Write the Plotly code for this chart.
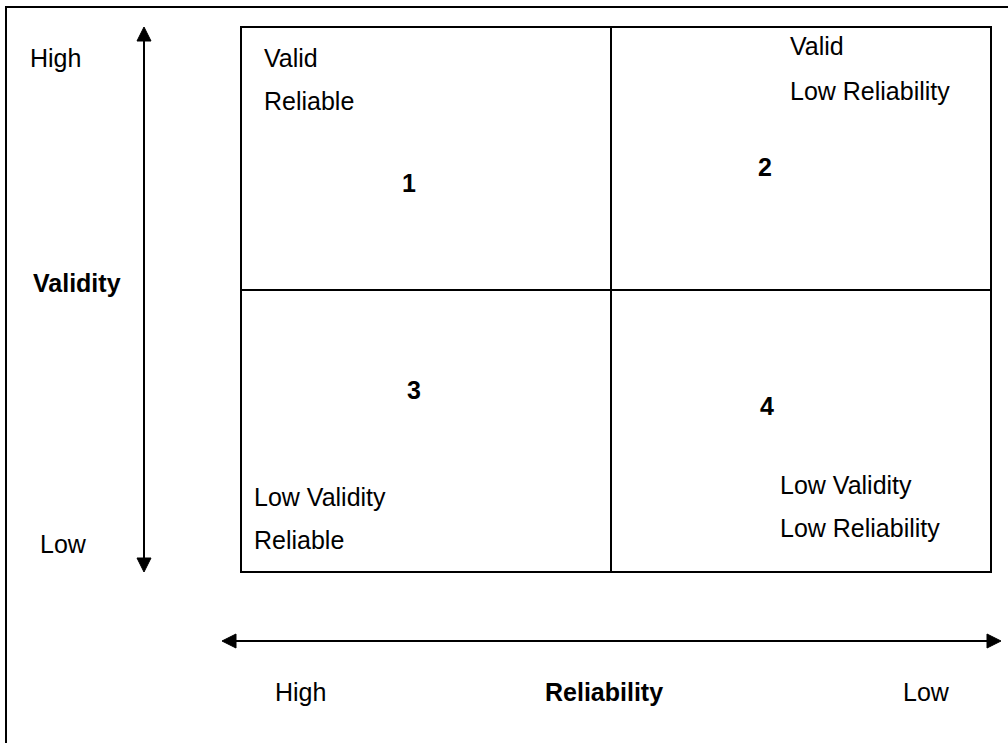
import plotly.graph_objects as go

W, H = 1008, 743

# Quadrant labels (text lines) and numbers
quad_numbers = ["1", "2", "3", "4"]
quad_num_pos = [(409, 183), (765, 167), (414, 390), (767, 406)]
quad_lines = [
    ["Valid", "Reliable"],
    ["Valid", "Low Reliability"],
    ["Low Validity", "Reliable"],
    ["Low Validity", "Low Reliability"],
]
quad_line_pos = [
    [(264, 58), (264, 101)],
    [(790, 46), (790, 91)],
    [(254, 497), (254, 540)],
    [(780, 485), (780, 528)],
]
axis_texts = ["High", "Low", "High", "Low"]
axis_text_pos = [(30, 58), (40, 544), (275, 692), (903, 692)]
axis_titles = ["Validity", "Reliability"]
axis_title_pos = [(33, 283), (545, 692)]

FONT = "Liberation Sans, Arial, sans-serif"
FS = 25
LW = 2

fig = go.Figure()
fig.add_trace(go.Scatter(x=[0, W], y=[0, H], mode="markers",
                         marker=dict(opacity=0), hoverinfo="skip", showlegend=False))

shapes = []
# outer border (top and left visible)
shapes.append(dict(type="rect", x0=6, y0=7, x1=W + 20, y1=H + 20,
                   line=dict(color="black", width=LW)))
# quadrant box
bx0, bx1, by0, by1 = 241, 991, 27, 572
mx, my = 611, 290
shapes.append(dict(type="rect", x0=bx0, y0=by0, x1=bx1, y1=by1,
                   line=dict(color="black", width=LW)))
shapes.append(dict(type="line", x0=mx, y0=by0, x1=mx, y1=by1,
                   line=dict(color="black", width=LW)))
shapes.append(dict(type="line", x0=bx0, y0=my, x1=bx1, y1=my,
                   line=dict(color="black", width=LW)))

# vertical arrow
ax_x, ay0, ay1 = 144, 27, 572
shapes.append(dict(type="line", x0=ax_x, y0=ay0 + 12, x1=ax_x, y1=ay1 - 12,
                   line=dict(color="black", width=LW)))
shapes.append(dict(type="path",
                   path=f"M {ax_x} {ay0} L {ax_x-7} {ay0+14} L {ax_x+7} {ay0+14} Z",
                   fillcolor="black", line=dict(color="black", width=1)))
shapes.append(dict(type="path",
                   path=f"M {ax_x} {ay1} L {ax_x-7} {ay1-14} L {ax_x+7} {ay1-14} Z",
                   fillcolor="black", line=dict(color="black", width=1)))
# horizontal arrow
hy, hx0, hx1 = 641, 222, 1001
shapes.append(dict(type="line", x0=hx0 + 12, y0=hy, x1=hx1 - 12, y1=hy,
                   line=dict(color="black", width=LW)))
shapes.append(dict(type="path",
                   path=f"M {hx0} {hy} L {hx0+14} {hy-7} L {hx0+14} {hy+7} Z",
                   fillcolor="black", line=dict(color="black", width=1)))
shapes.append(dict(type="path",
                   path=f"M {hx1} {hy} L {hx1-14} {hy-7} L {hx1-14} {hy+7} Z",
                   fillcolor="black", line=dict(color="black", width=1)))

annotations = []
def txt(s, x, y, bold=False, xanchor="left"):
    annotations.append(dict(text=f"<b>{s}</b>" if bold else s, x=x, y=y,
                            xref="x", yref="y", showarrow=False,
                            xanchor=xanchor, yanchor="middle",
                            borderpad=0, borderwidth=0,
                            font=dict(family=FONT, size=FS, color="black")))

for lines, poss in zip(quad_lines, quad_line_pos):
    for s, (x, y) in zip(lines, poss):
        txt(s, x, y)
for s, (x, y) in zip(quad_numbers, quad_num_pos):
    txt(s, x, y, bold=True, xanchor="center")
for s, (x, y) in zip(axis_texts, axis_text_pos):
    txt(s, x, y)
for s, (x, y) in zip(axis_titles, axis_title_pos):
    txt(s, x, y, bold=True)

fig.update_layout(
    width=W, height=H,
    margin=dict(l=0, r=0, t=0, b=0),
    paper_bgcolor="white", plot_bgcolor="white",
    xaxis=dict(range=[0, W], visible=False, fixedrange=True),
    yaxis=dict(range=[H, 0], visible=False, fixedrange=True),
    shapes=shapes, annotations=annotations,
    showlegend=False,
)
fig.write_html("out.html", config={"displayModeBar": False},
               post_script="document.body.style.margin='0';document.body.style.overflow='hidden';")
